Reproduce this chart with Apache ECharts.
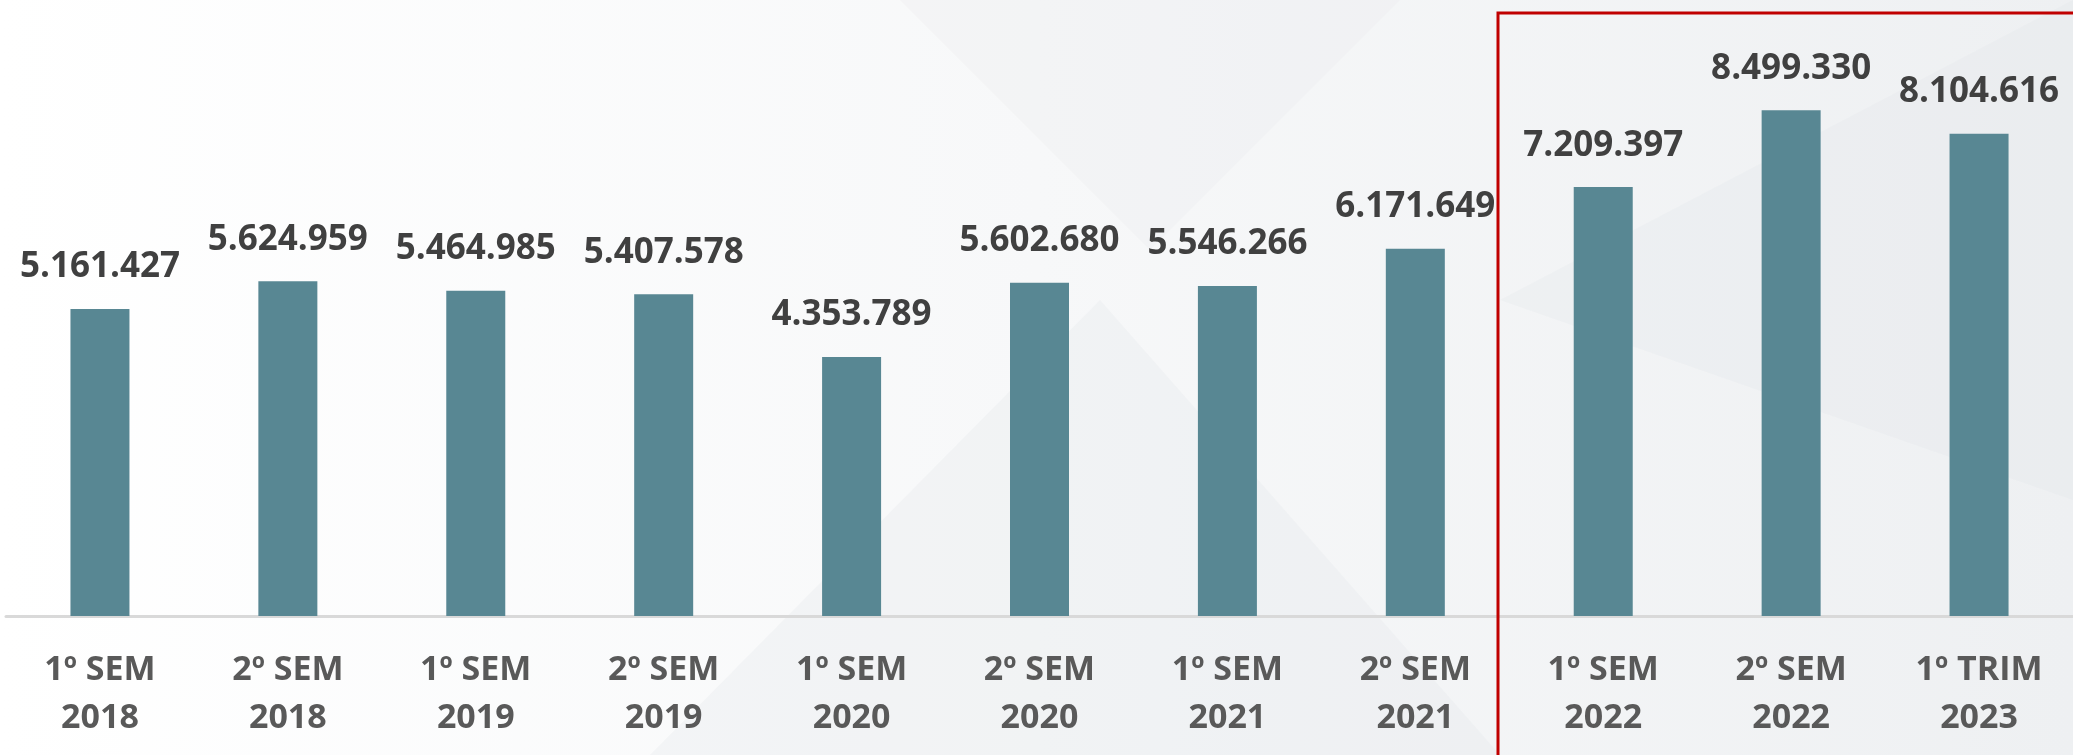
<!DOCTYPE html>
<html lang="pt">
<head>
<meta charset="UTF-8" />
<title>Semestres</title>
<style>
  html, body { margin: 0; padding: 0; width: 100%; height: 100%; }
  #chart { width: 2073px; height: 755px; }
</style>
</head>
<body>
<div id="chart"></div>
<script src="https://cdn.jsdelivr.net/npm/echarts@6/dist/echarts.min.js"></script>
<script>
var periods = ['1º SEM\n2018', '2º SEM\n2018', '1º SEM\n2019', '2º SEM\n2019', '1º SEM\n2020',
  '2º SEM\n2020', '1º SEM\n2021', '2º SEM\n2021', '1º SEM\n2022', '2º SEM\n2022', '1º TRIM\n2023'];
var totals = [5161427, 5624959, 5464985, 5407578, 4353789, 5602680, 5546266, 6171649, 7209397, 8499330, 8104616];

function fmt(v) {
  // separador de milhar com ponto
  return String(v).replace(/\B(?=(\d{3})+(?!\d))/g, '.');
}

var chart = echarts.init(document.getElementById('chart'));
var option = {
  backgroundColor: {
    type: 'linear', x: 0, y: 0, x2: 1, y2: 0,
    colorStops: [
      { offset: 0, color: '#ffffff' },
      { offset: 0.5, color: '#f7f8f9' },
      { offset: 1, color: '#eef0f2' }
    ]
  },
  graphic: [
    { type: 'polygon', silent: true, z: -10,
      shape: { points: [[650, 755], [1100, 300], [1500, 755]] },
      style: { fill: 'rgba(225,228,231,0.25)' } },
    { type: 'polygon', silent: true, z: -10,
      shape: { points: [[900, 0], [1400, 0], [1150, 250]] },
      style: { fill: 'rgba(230,232,235,0.25)' } },
    { type: 'polygon', silent: true, z: -10,
      shape: { points: [[1500, 300], [2073, 0], [2073, 500]] },
      style: { fill: 'rgba(222,225,229,0.2)' } },
    { type: 'rect', silent: true, z: 10,
      shape: { x: 1498, y: 13, width: 600, height: 760 },
      style: { fill: 'none', stroke: '#c00000', lineWidth: 3 } }
  ],
  grid: { left: 6, right: 0, top: 21, bottom: 139 },
  xAxis: {
    type: 'category',
    data: periods,
    axisTick: { show: false },
    axisLine: { lineStyle: { color: '#d9d9d9', width: 3 } },
    axisLabel: {
      color: '#595959',
      fontFamily: 'Open Sans',
      fontWeight: 'bold',
      fontSize: 34,
      lineHeight: 48,
      margin: 30
    }
  },
  yAxis: {
    type: 'value',
    min: 0,
    max: 10000000,
    show: false,
    splitLine: { show: false }
  },
  series: [{
    type: 'bar',
    data: totals,
    barWidth: 59,
    itemStyle: { color: '#588793' },
    label: {
      show: true,
      position: 'top',
      distance: 24,
      color: '#404040',
      fontFamily: 'Open Sans',
      fontWeight: 'bold',
      fontSize: 35,
      formatter: function (p) { return fmt(p.value); }
    }
  }]
};
chart.setOption(option);
</script>
</body>
</html>
